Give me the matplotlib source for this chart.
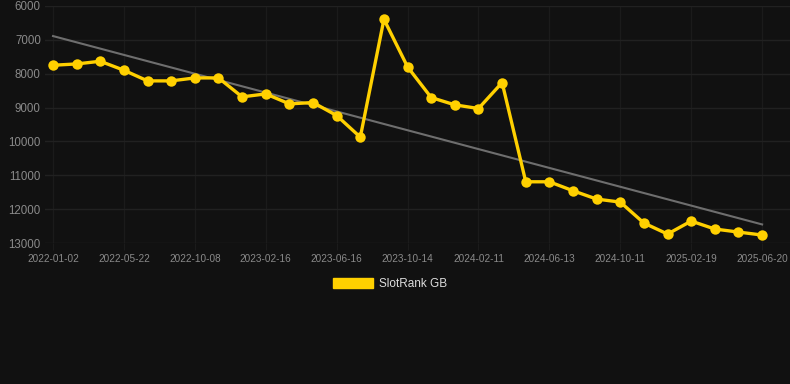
import numpy as np
import matplotlib.pyplot as plt
from matplotlib.patches import Patch

# === Données (rang SlotRank GB) ===
ranks = [7750, 7711, 7632, 7898, 8212, 8212, 8124, 8124, 8684, 8596,
         8891, 8851, 9235, 9874, 6393, 7799, 8704, 8920, 9028, 8262,
         11192, 11192, 11457, 11703, 11792, 12411, 12736, 12352, 12588, 12677,
         12765]
tick_labels = ["2022-01-02", "2022-05-22", "2022-10-08", "2023-02-16",
               "2023-06-16", "2023-10-14", "2024-02-11", "2024-06-13",
               "2024-10-11", "2025-02-19", "2025-06-20"]
y_ticks = [6000, 7000, 8000, 9000, 10000, 11000, 12000, 13000]

BG = "#111111"
YELLOW = "#FFD000"
TXT = "#8a8a8a"

plt.rcParams['font.family'] = ['Liberation Sans', 'DejaVu Sans']

x = np.arange(len(ranks))

# tendance linéaire (moindres carrés)
coef = np.polyfit(x, ranks, 1)
trend = np.polyval(coef, x)

fig = plt.figure(figsize=(7.9, 3.84), dpi=100, facecolor=BG)
ax = fig.add_axes([45 / 790, 1 - 243 / 384, 745 / 790, 237 / 384])
ax.set_facecolor(BG)

ax.plot(x, trend, color="#6e6e6e", lw=1.5, zorder=2)
ax.plot(x, ranks, color=YELLOW, lw=2.4, marker="o", markersize=7.5,
        markeredgewidth=0, zorder=3)

ax.set_ylim(13000, 6000)
ax.set_xlim(-0.34, 31.18)
ax.set_yticks(y_ticks)
ax.set_yticklabels([str(v) for v in y_ticks])
ax.set_xticks(x[::3])
ax.set_xticklabels(tick_labels)

ax.grid(True, axis="y", color="#212121", lw=1)
ax.grid(True, axis="x", color="#1b1b1b", lw=1)
for s in ax.spines.values():
    s.set_visible(False)
ax.tick_params(axis="y", length=0, pad=3, labelsize=8.3, labelcolor=TXT)
ax.tick_params(axis="x", length=5, color="#1b1b1b", pad=3, labelsize=7.2,
               labelcolor=TXT)

handle = Patch(facecolor=YELLOW, edgecolor=YELLOW)
fig.legend([handle], ["SlotRank GB"], loc="center", bbox_to_anchor=(390 / 790, 1 - 284 / 384),
           frameon=False, fontsize=8.5, labelcolor="#dddddd",
           handlelength=3.4, handleheight=1.0, handletextpad=0.5)

fig.savefig("out.png", dpi=100, facecolor=BG)
